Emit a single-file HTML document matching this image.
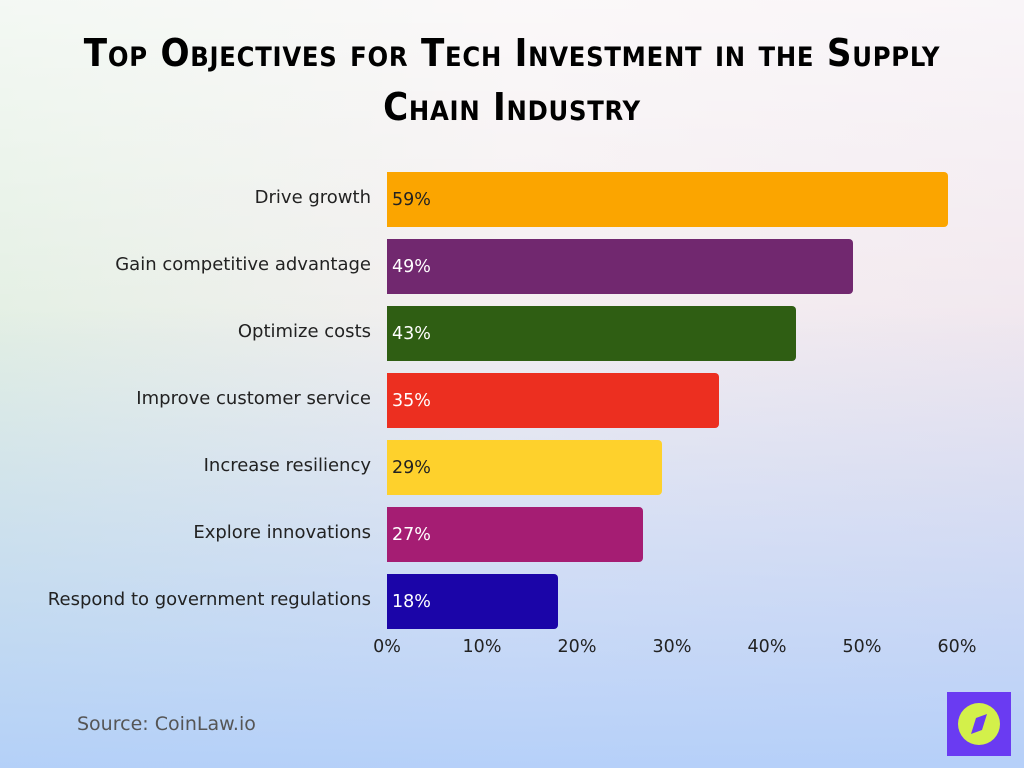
<!DOCTYPE html>
<html><head><meta charset="utf-8"><style>
body{margin:0;width:1024px;height:768px;overflow:hidden;font-family:"DejaVu Sans",sans-serif;
background:linear-gradient(180deg,rgba(255,255,255,0.6) 0%,rgba(255,255,255,0) 45%),linear-gradient(90deg,#e3efe3 0%,#f4eef0 50%,#f1e7ee 100%);position:relative}
.bot{position:absolute;left:0;top:0;width:1024px;height:768px;background:linear-gradient(180deg,rgba(180,210,250,0) 40%,rgba(175,205,250,0.9) 100%)}
.title{position:absolute;left:0;width:1024px;text-align:center;font-family:"DejaVu Sans Condensed","Liberation Sans Narrow",sans-serif;font-weight:bold;font-size:38px;font-variant:small-caps;letter-spacing:0.75px;color:#000;line-height:54px;top:26px}
.lab{position:absolute;right:653px;font-size:18px;color:#222;text-align:right;white-space:nowrap}
.bar{position:absolute;left:387px;height:55px;border-radius:0 4px 4px 0}
.val{position:absolute;left:392px;font-size:17.5px}
.tick{position:absolute;top:637px;font-size:17.5px;color:#222;transform:translateX(-50%)}
</style></head><body><div class="bot"></div>
<div class="title">Top Objectives for Tech Investment in the Supply<br>Chain Industry</div>

<div class="lab" style="top:187px">Drive growth</div>
<div class="bar" style="top:172px;width:561px;background:#fba500"></div><div class="val" style="top:190px;color:#222">59%</div>
<div class="lab" style="top:254px">Gain competitive advantage</div>
<div class="bar" style="top:239px;width:466px;background:#71286f"></div><div class="val" style="top:257px;color:#fff">49%</div>
<div class="lab" style="top:321px">Optimize costs</div>
<div class="bar" style="top:306px;width:409px;background:#2f5e13"></div><div class="val" style="top:324px;color:#fff">43%</div>
<div class="lab" style="top:388px">Improve customer service</div>
<div class="bar" style="top:373px;width:332px;background:#ec2f20"></div><div class="val" style="top:391px;color:#fff">35%</div>
<div class="lab" style="top:455px">Increase resiliency</div>
<div class="bar" style="top:440px;width:275px;background:#fed12c"></div><div class="val" style="top:458px;color:#222">29%</div>
<div class="lab" style="top:522px">Explore innovations</div>
<div class="bar" style="top:507px;width:256px;background:#a51d73"></div><div class="val" style="top:525px;color:#fff">27%</div>
<div class="lab" style="top:589px">Respond to government regulations</div>
<div class="bar" style="top:574px;width:171px;background:#1b05a8"></div><div class="val" style="top:592px;color:#fff">18%</div>

<div class="tick" style="left:387px">0%</div>
<div class="tick" style="left:482px">10%</div>
<div class="tick" style="left:577px">20%</div>
<div class="tick" style="left:672px">30%</div>
<div class="tick" style="left:767px">40%</div>
<div class="tick" style="left:862px">50%</div>
<div class="tick" style="left:957px">60%</div>

<div style="position:absolute;left:77px;top:713px;font-size:19px;color:#555">Source: CoinLaw.io</div>
<svg style="position:absolute;left:947px;top:692px" width="64" height="64"><rect width="64" height="64" fill="#6a3bf2"/><circle cx="32" cy="32" r="21" fill="#d3f04a"/><polygon points="40,22 35,38 24,42 29,26" fill="#6a3bf2"/></svg>
</body></html>
